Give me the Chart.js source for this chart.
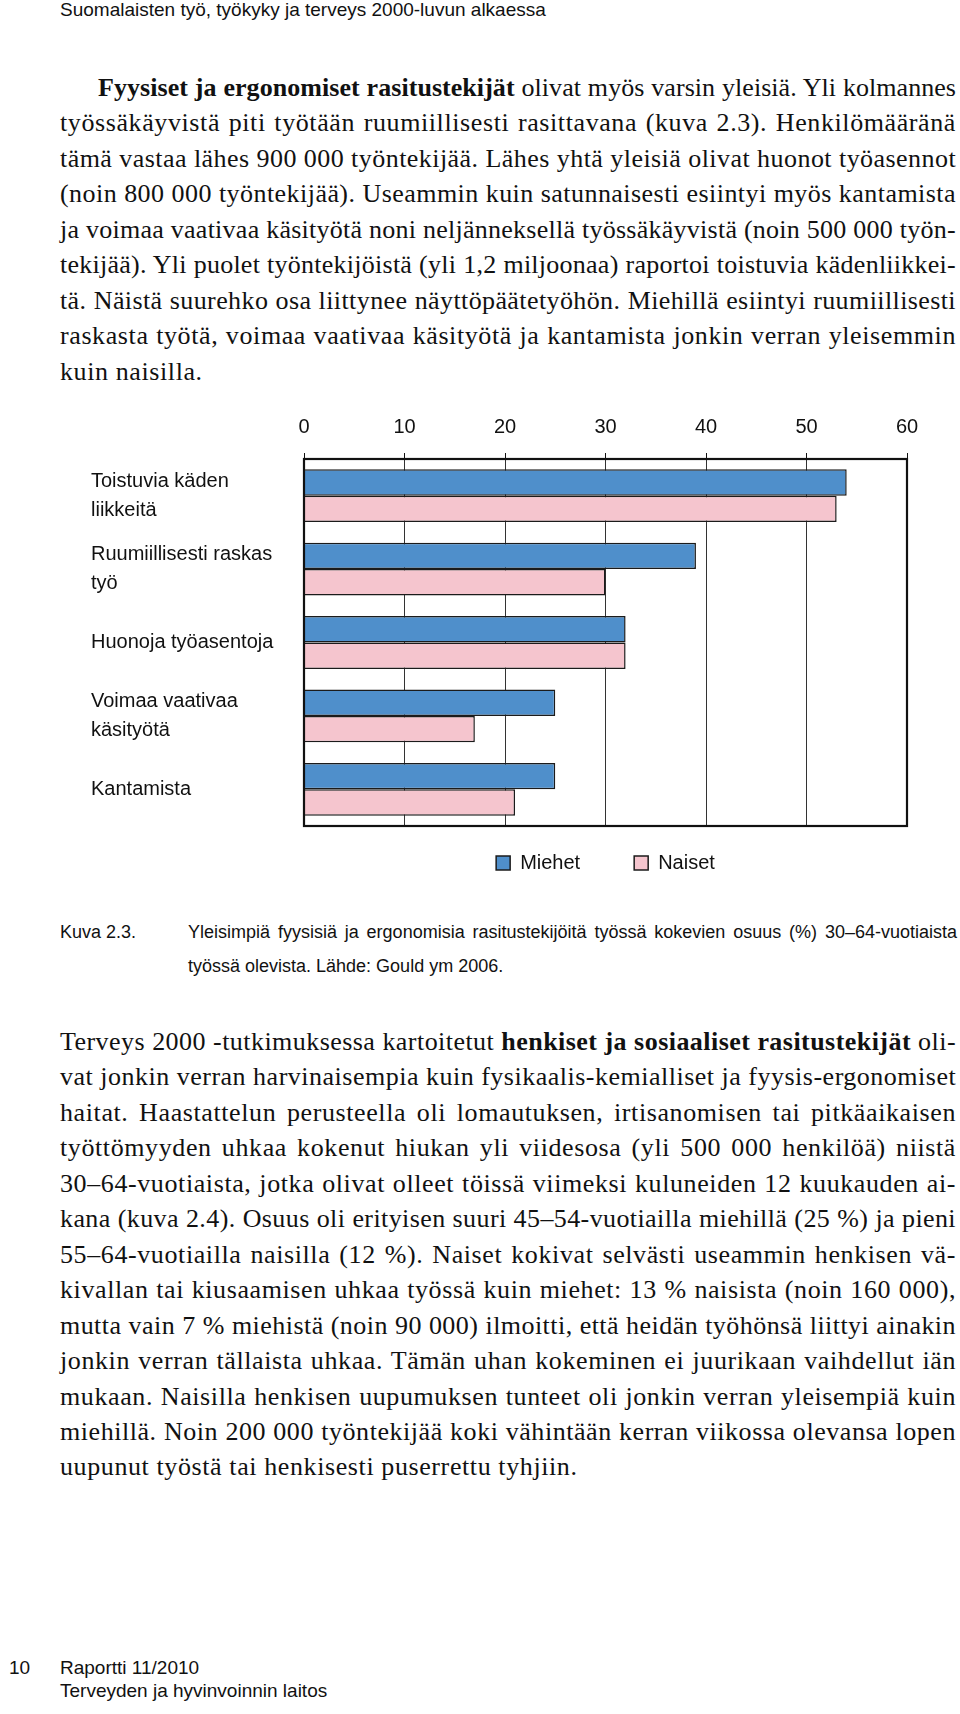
<!DOCTYPE html>
<html lang="fi">
<head>
<meta charset="utf-8">
<title>Kuva 2.3</title>
<script src="https://cdn.jsdelivr.net/npm/chart.js@4.4.1/dist/chart.umd.min.js"></script>
<style>
  body { margin: 0; width: 960px; height: 1714px; position: relative; background: #fff; color: #111; overflow: hidden; }
  .sans { font-family: 'Liberation Sans', Arial, sans-serif; }
  .serif { font-family: 'Liberation Serif', 'Times New Roman', serif; font-size: 26px; letter-spacing: 0.6px; line-height: 35.45px; }
  .abs { position: absolute; }
  .ln { white-space: nowrap; text-align: justify; text-align-last: justify; }
  .ln.last { text-align-last: left; }
  #chart { position: absolute; left: 0; top: 400px; }
</style>
</head>
<body>

<div class="abs sans" style="left:60px; top:0; font-size:19px; line-height:20px;">Suomalaisten työ, työkyky ja terveys 2000-luvun alkaessa</div>

<div class="abs serif" style="left:60px; top:70px; width:896px;">
  <div class="ln" style="padding-left:38px;"><b>Fyysiset ja ergonomiset rasitustekijät</b> olivat myös varsin yleisiä. Yli kolmannes</div>
  <div class="ln">työssäkäyvistä piti työtään ruumiillisesti rasittavana (kuva 2.3). Henkilömääränä</div>
  <div class="ln">tämä vastaa lähes 900 000 työntekijää. Lähes yhtä yleisiä olivat huonot työasennot</div>
  <div class="ln">(noin 800 000 työntekijää). Useammin kuin satunnaisesti esiintyi myös kantamista</div>
  <div class="ln">ja voimaa vaativaa käsityötä noni neljänneksellä työssäkäyvistä (noin 500 000 työn-</div>
  <div class="ln">tekijää). Yli puolet työntekijöistä (yli 1,2 miljoonaa) raportoi toistuvia kädenliikkei-</div>
  <div class="ln">tä. Näistä suurehko osa liittynee näyttöpäätetyöhön. Miehillä esiintyi ruumiillisesti</div>
  <div class="ln">raskasta työtä, voimaa vaativaa käsityötä ja kantamista jonkin verran yleisemmin</div>
  <div class="ln last">kuin naisilla.</div>
</div>

<canvas id="chart" width="960" height="510"></canvas>

<div class="abs sans" style="left:60px; top:915px; font-size:18px; line-height:34px;">Kuva 2.3.</div>
<div class="abs sans" style="left:188px; top:915px; width:769px; font-size:18px; line-height:34px;">
  <div class="ln">Yleisimpiä fyysisiä ja ergonomisia rasitustekijöitä työssä kokevien osuus (%) 30–64-vuotiaista</div>
  <div class="ln last">työssä olevista. Lähde: Gould ym 2006.</div>
</div>

<div class="abs serif" style="left:60px; top:1024px; width:896px;">
  <div class="ln">Terveys 2000 -tutkimuksessa kartoitetut <b>henkiset ja sosiaaliset rasitustekijät</b> oli-</div>
  <div class="ln">vat jonkin verran harvinaisempia kuin fysikaalis-kemialliset ja fyysis-ergonomiset</div>
  <div class="ln">haitat. Haastattelun perusteella oli lomautuksen, irtisanomisen tai pitkäaikaisen</div>
  <div class="ln">työttömyyden uhkaa kokenut hiukan yli viidesosa (yli 500 000 henkilöä) niistä</div>
  <div class="ln">30–64-vuotiaista, jotka olivat olleet töissä viimeksi kuluneiden 12 kuukauden ai-</div>
  <div class="ln">kana (kuva 2.4). Osuus oli erityisen suuri 45–54-vuotiailla miehillä (25 %) ja pieni</div>
  <div class="ln">55–64-vuotiailla naisilla (12 %). Naiset kokivat selvästi useammin henkisen vä-</div>
  <div class="ln">kivallan tai kiusaamisen uhkaa työssä kuin miehet: 13 % naisista (noin 160 000),</div>
  <div class="ln">mutta vain 7 % miehistä (noin 90 000) ilmoitti, että heidän työhönsä liittyi ainakin</div>
  <div class="ln">jonkin verran tällaista uhkaa. Tämän uhan kokeminen ei juurikaan vaihdellut iän</div>
  <div class="ln">mukaan. Naisilla henkisen uupumuksen tunteet oli jonkin verran yleisempiä kuin</div>
  <div class="ln">miehillä. Noin 200 000 työntekijää koki vähintään kerran viikossa olevansa lopen</div>
  <div class="ln last">uupunut työstä tai henkisesti puserrettu tyhjiin.</div>
</div>

<div class="abs sans" style="left:9px; top:1656px; font-size:19px; line-height:23px;">10</div>
<div class="abs sans" style="left:60px; top:1656px; font-size:19px; line-height:23px;">Raportti 11/2010<br>Terveyden ja hyvinvoinnin laitos</div>

<script>
// squeeze any justified line that would not fit
document.querySelectorAll('.ln').forEach(function (el) {
  let ls = parseFloat(getComputedStyle(el).letterSpacing) || 0;
  while (el.scrollWidth > el.clientWidth + 0.5 && ls > -1.5) {
    ls -= 0.05;
    el.style.letterSpacing = ls.toFixed(2) + 'px';
  }
});

const categories = [
  ['Toistuvia käden', 'liikkeitä'],
  ['Ruumiillisesti raskas', 'työ'],
  'Huonoja työasentoja',
  ['Voimaa vaativaa', 'käsityötä'],
  'Kantamista'
];
const miehet = [54, 39, 32, 25, 25];
const naiset = [53, 30, 32, 17, 21];
const xMin = 0;
const xMax = 60;
const xStep = 10;

Chart.defaults.font.family = "'Liberation Sans', Arial, sans-serif";
Chart.defaults.color = '#111';

// black frame round the plot area
const frame = {
  id: 'frame',
  afterDatasetsDraw(chart) {
    const { ctx, chartArea: a } = chart;
    ctx.save();
    ctx.strokeStyle = '#111';
    ctx.lineWidth = 2.2;
    ctx.strokeRect(a.left, a.top, a.right - a.left, a.bottom - a.top);
    ctx.restore();
  }
};

// legend padding is also used vertically, so lift it back up
const legendNudge = {
  id: 'legendNudge',
  afterLayout(chart) {
    chart.legend.top -= 27;
    chart.legend.bottom -= 27;
  }
};

const ctx = document.getElementById('chart').getContext('2d');
new Chart(ctx, {
  type: 'bar',
  data: {
    labels: categories,
    datasets: [
      { label: 'Miehet', data: miehet, backgroundColor: '#4f8fcb', borderColor: '#1b1b1b', borderWidth: 1.5 },
      { label: 'Naiset', data: naiset, backgroundColor: '#f5c5ce', borderColor: '#1b1b1b', borderWidth: 1.5 }
    ]
  },
  options: {
    indexAxis: 'y',
    responsive: false,
    animation: false,
    layout: { padding: { left: 91, right: 53, top: 1, bottom: 0 } },
    datasets: { bar: { categoryPercentage: 0.72, barPercentage: 1 } },
    scales: {
      x: {
        position: 'top',
        min: xMin,
        max: xMax,
        ticks: { stepSize: xStep, padding: 14, font: { size: 20 } },
        grid: { color: '#333', lineWidth: 1, tickLength: 6, tickColor: '#111' },
        border: { display: false }
      },
      y: {
        grid: { display: false },
        border: { display: false },
        ticks: { crossAlign: 'far', padding: 0, font: { size: 20, lineHeight: 1.45 } },
        afterFit(scale) { scale.width = 213; }
      }
    },
    plugins: {
      legend: {
        position: 'bottom',
        fullSize: false,
        labels: { boxWidth: 14, boxHeight: 14, padding: 54, font: { size: 20 } }
      },
      tooltip: { enabled: false }
    }
  },
  plugins: [frame, legendNudge]
});
</script>
</body>
</html>
